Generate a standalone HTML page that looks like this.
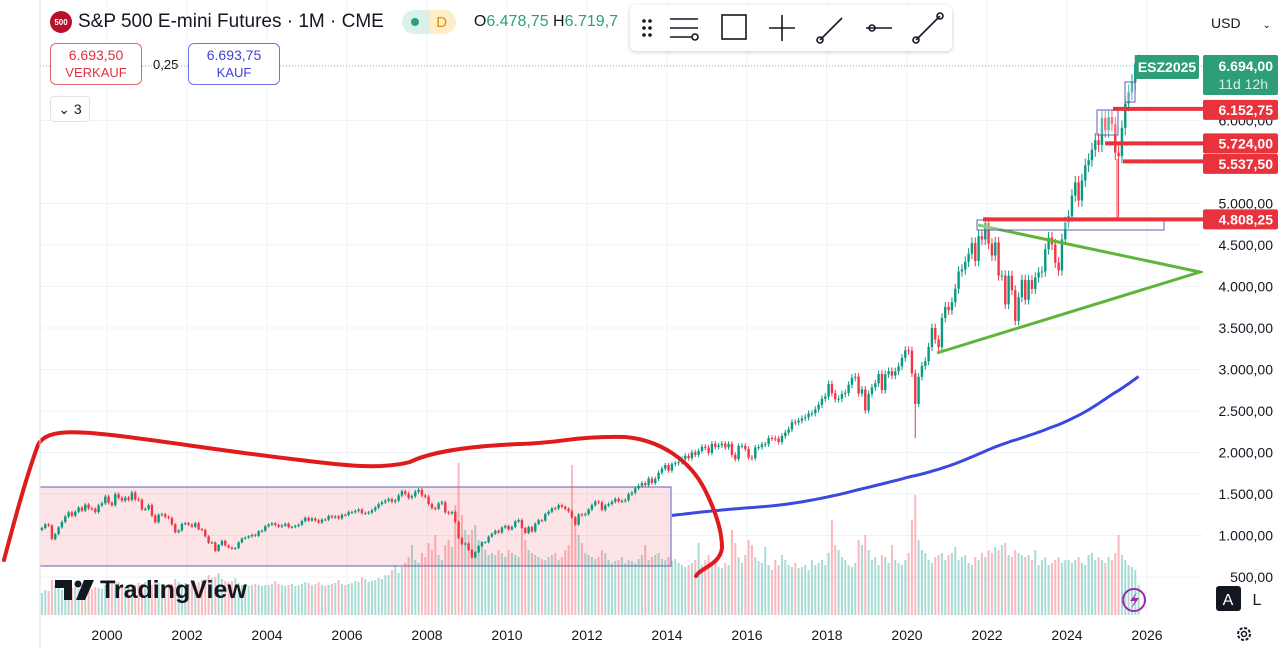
<!DOCTYPE html>
<html><head><meta charset="utf-8">
<style>
body{margin:0;width:1280px;height:648px;overflow:hidden;background:#fff;font-family:"Liberation Sans",sans-serif;}
#wrap{position:relative;width:1280px;height:648px;}
svg{position:absolute;left:0;top:0;}
</style></head>
<body><div id="wrap">
<svg id="chart" width="1280" height="648"></svg>
</div>
<script>
// Monthly closes from May 1998 to Oct 2025
const startYear = 1998, startMonth = 4;
const closes = [
1090,1133,1120,957,1017,1098,1163,1229,
1279,1238,1286,1335,1301,1372,1328,1320,1282,1362,1388,1469,
1394,1366,1498,1452,1420,1454,1430,1517,1436,1429,1315,1320,
1366,1240,1160,1249,1255,1224,1211,1134,1040,1060,1139,1148,
1130,1107,1147,1076,1067,990,912,916,815,885,936,880,
855,841,848,917,964,975,990,1008,996,1050,1058,1112,
1131,1145,1126,1107,1121,1141,1101,1104,1115,1130,1174,1212,
1181,1204,1181,1157,1192,1191,1234,1220,1229,1207,1249,1248,
1280,1281,1295,1311,1270,1270,1277,1304,1336,1378,1401,1418,
1438,1407,1421,1482,1531,1503,1455,1474,1527,1549,1481,1468,
1379,1331,1323,1386,1400,1280,1267,1283,1165,969,896,903,
826,735,798,873,919,919,987,1021,1057,1036,1096,1115,
1074,1104,1169,1187,1089,1031,1102,1049,1141,1183,1181,1258,
1286,1327,1326,1364,1345,1321,1292,1219,1131,1253,1247,1258,
1312,1366,1408,1398,1310,1362,1379,1407,1441,1412,1416,1426,
1498,1515,1569,1598,1631,1606,1686,1633,1682,1757,1806,1848,
1783,1859,1872,1884,1924,1960,1931,2003,1972,2018,2068,2059,
1995,2105,2068,2086,2107,2063,2104,1972,1920,2079,2080,2044,
1940,1932,2060,2065,2097,2099,2174,2171,2168,2126,2199,2239,
2279,2364,2363,2384,2412,2423,2470,2472,2519,2575,2648,2674,
2824,2714,2641,2648,2705,2718,2816,2902,2914,2712,2760,2507,
2704,2784,2834,2946,2752,2942,2980,2926,2977,3038,3141,3231,
3226,2954,2585,2912,3044,3100,3271,3500,3363,3270,3622,3756,
3714,3811,3973,4181,4204,4298,4395,4523,4308,4605,4567,4766,
4516,4374,4530,4132,4132,3785,4130,3955,3586,3872,4080,3840,
4077,3970,4109,4169,4180,4450,4589,4508,4288,4194,4568,4770,
4846,5096,5254,5036,5278,5460,5522,5648,5762,5705,6032,5882,
6041,5955,5612,5569,5912,6205,6339,6460,6688,6694];
const volumes = [
22,25,24,35,30,28,25,27,
26,27,28,26,27,25,24,26,28,27,26,30,
30,32,34,33,30,28,27,28,30,32,31,33,
33,30,35,32,31,30,29,31,36,33,30,32,
31,32,30,33,35,36,40,37,38,42,36,34,
33,34,37,32,30,31,29,30,31,30,29,30,
30,31,34,31,30,29,30,31,29,30,31,33,
32,30,31,33,30,29,30,31,32,35,31,30,
31,32,34,33,38,36,33,34,35,37,36,40,
40,45,50,42,48,52,58,70,55,52,62,58,
72,65,80,60,55,70,75,68,110,152,100,85,
80,85,90,75,70,65,60,62,60,65,62,58,
65,62,60,58,85,75,65,62,60,58,56,55,
58,60,62,55,58,65,70,150,90,80,72,62,
60,58,56,58,65,62,55,52,54,55,58,52,
55,54,52,56,60,70,55,58,60,62,56,55,
58,54,56,52,50,48,50,52,55,72,50,55,
60,52,55,48,47,52,50,85,72,58,52,60,
75,70,58,54,52,68,50,45,55,50,60,55,
50,48,52,47,48,50,45,55,50,52,55,50,
62,95,70,65,58,55,50,48,52,75,70,80,
65,55,58,50,60,58,52,70,55,52,50,55,
62,95,120,75,65,62,55,52,58,60,62,55,
60,62,68,55,58,60,52,50,58,55,62,58,
65,62,68,65,70,72,60,58,65,62,60,58,
60,55,65,50,55,58,50,52,55,58,52,55,
55,52,55,58,52,50,60,62,55,58,55,52,
58,55,62,80,60,55,50,48,45,30];
const spikeLows = [[2020,2,2174],[2025,3,4808]];
const priceTicks = [500,1000,1500,2000,2500,3000,3500,4000,4500,5000,6000];
const priceTickLabels = ["500,00","1.000,00","1.500,00","2.000,00","2.500,00","3.000,00","3.500,00","4.000,00","4.500,00","5.000,00","6.000,00"];
const yearTicks = [2000,2002,2004,2006,2008,2010,2012,2014,2016,2018,2020,2022,2024,2026];
const levels = [6152.75,5724,5537.5,4808.25];
const levelLabels = ["6.152,75","5.724,00","5.537,50","4.808,25"];
const levelStarts = [2025.15,2024.95,2025.4,2021.9];
const maPeriod = 190;

const X = t => 107 + (t-2000)*40;
const Y = p => 577 - (p-500)*41.5/500;
const NS='http://www.w3.org/2000/svg';
const svg=document.getElementById('chart');
function mk(tag,attrs,parent){const e=document.createElementNS(NS,tag);for(const k in attrs)e.setAttribute(k,attrs[k]);(parent||svg).appendChild(e);return e;}
function tx(str,x,y,o,parent){const e=mk('text',Object.assign({x:x,y:y,'font-family':'Liberation Sans, sans-serif'},o),parent);e.textContent=str;return e;}

const grid=mk('g',{});


priceTicks.forEach(p=>{if(Y(p)<600)mk('line',{x1:40,x2:1203,y1:Y(p),y2:Y(p),stroke:'#f0f3fa','stroke-width':1},grid);});
yearTicks.forEach(yr=>mk('line',{x1:X(yr),x2:X(yr),y1:0,y2:618,stroke:'#f0f3fa','stroke-width':1},grid));

const box=mk('rect',{x:40,y:487,width:631,height:79,fill:'rgba(242,54,69,0.13)',stroke:'#5b5fb8','stroke-width':1});



const vg=mk('g',{});


let prev=closes[0];
closes.forEach((c,i)=>{
  const m=startMonth+i, t=startYear+(m)/12;
  const up=c>=prev; prev=c;
  const b=mk('rect',{x:X(t)+0.6,y:615-volumes[i],width:2,height:volumes[i],fill:up?'rgba(8,153,129,0.35)':'rgba(242,54,69,0.35)'},vg);
  
  
});

const cg=mk('g',{});


prev=closes[0]*0.98;
closes.forEach((c,i)=>{
  const m=startMonth+i, yr=startYear+Math.floor(m/12), mo=m%12, t=startYear+m/12;
  const o=prev; prev=c;
  const up=c>=o, col=up?'#089981':'#f23645';
  const hi=Math.max(o,c)*1.015, loBase=Math.min(o,c)*0.985;
  let lo=loBase; spikeLows.forEach(s=>{if(s[0]===yr&&s[1]===mo)lo=s[2];});
  const cx=X(t)+1.6;
  const w=mk('line',{x1:cx,x2:cx,y1:Y(hi),y2:Y(lo),stroke:col,'stroke-width':1},cg);
  
  
  const top=Y(Math.max(o,c)), h=Math.max(1,Y(Math.min(o,c))-top);
  const r=mk('rect',{x:cx-1.2,y:top,width:2.4,height:h,fill:col},cg);
  
  
});

let pts=[];
for(let i=maPeriod-1;i<closes.length;i++){let s=0;for(let j=i-maPeriod+1;j<=i;j++)s+=closes[j];const t=startYear+(startMonth+i)/12;pts.push(X(t)+1.6+','+Y(s/maPeriod));}
const ma=mk('polyline',{points:pts.join(' '),fill:'none',stroke:'#3b49e0','stroke-width':3});



const tri=mk('path',{d:'M978 225 L1200 272 L937 353',fill:'none',stroke:'#5fb53a','stroke-width':3});



[[977,220,187,10],[1125,82,10,20],[1097,110,21,25]].forEach(r=>{
  const e=mk('rect',{x:r[0],y:r[1],width:r[2],height:r[3],fill:'rgba(255,255,255,0.3)',stroke:'#5b5fb8','stroke-width':1});
  
  
});

const cur=mk('path',{d:'M4 560 C12 530 25 480 38 445 C45 430 70 430 120 436 C170 442 230 452 300 460 C340 465 380 470 410 462 C430 452 470 446 520 444 C560 443 575 436 625 437 C660 440 690 460 705 490 C715 510 722 530 722 548 C720 565 700 568 696 576',fill:'none',stroke:'#e01b1b','stroke-width':4,'stroke-linecap':'round'});



const dl=mk('line',{x1:40,x2:1203,y1:66,y2:66,stroke:'#089981','stroke-width':1,'stroke-dasharray':'1 2',opacity:0.6});



const ax=mk('g',{});


mk('rect',{x:1203,y:0,width:77,height:648,fill:'#fff'},ax);
priceTicks.forEach((p,i)=>{const e=tx(priceTickLabels[i],1273,Y(p)+5,{'font-size':14,fill:'#131722','text-anchor':'end'},ax);});

const labelShift=[2,0,5,0];
levels.forEach((p,i)=>{
  const g=mk('g',{});
  
  
  mk('line',{x1:X(levelStarts[i]),x2:1205,y1:Y(p)+labelShift[i]/2,y2:Y(p)+labelShift[i]/2,stroke:'#e8323c','stroke-width':4},g);
  const ly=Y(p)+labelShift[i];
  mk('rect',{x:1203,y:ly-10,width:75,height:20,fill:'#e8323c',rx:2},g);
  tx(levelLabels[i],1273,ly+5,{'font-size':14,fill:'#fff','text-anchor':'end','font-weight':'bold'},g);
});
const wk=mk('line',{x1:1117,x2:1117,y1:Y(5537.5),y2:Y(4808.25),stroke:'#f23645','stroke-width':1});



const cp=mk('g',{});


mk('rect',{x:1135,y:55,width:64,height:24,fill:'#2e9e7a',rx:2},cp);
tx('ESZ2025',1167,72,{'font-size':14,fill:'#fff','text-anchor':'middle','font-weight':'bold'},cp);
mk('rect',{x:1203,y:55,width:75,height:40,fill:'#2e9e7a',rx:2},cp);
tx('6.694,00',1273,71,{'font-size':14,fill:'#fff','text-anchor':'end','font-weight':'bold'},cp);
tx('11d 12h',1268,89,{'font-size':14,fill:'#d4f0e6','text-anchor':'end'},cp);

const ta=mk('g',{});


mk('rect',{x:0,y:618,width:1203,height:30,fill:'#fff'},ta);
yearTicks.forEach(yr=>{const e=tx(String(yr),X(yr),640,{'font-size':14,fill:'#131722','text-anchor':'middle'},ta);});
mk('line',{x1:40,x2:40,y1:0,y2:648,stroke:'#e0e3eb'});

const wm=mk('g',{});


mk('path',{d:'M55 580 H72 V600 H64 V588 H55 Z',fill:'#131722'},wm);
mk('circle',{cx:78,cy:584,r:3.5,fill:'#131722'},wm);
mk('path',{d:'M84 580 H94 L85 600 H76 Z',fill:'#131722'},wm);
tx('TradingView',100,598,{'font-size':25,'font-weight':'bold',fill:'#131722'},wm);

const bc=mk('g',{});


mk('circle',{cx:1134,cy:600,r:11,fill:'none',stroke:'#9c27b0','stroke-width':2},bc);
mk('path',{d:'M1137 592 L1130 601 H1135 L1131 609 L1139 598 H1134 Z',fill:'#9c27b0'},bc);
mk('rect',{x:1216,y:586,width:25,height:25,rx:3,fill:'#131722'},bc);
tx('A',1228,605,{'font-size':16,fill:'#fff','text-anchor':'middle'},bc);
tx('L',1257,605,{'font-size':16,fill:'#131722','text-anchor':'middle'},bc);
mk('circle',{cx:1244,cy:634,r:6,fill:'none',stroke:'#131722','stroke-width':2,'stroke-dasharray':'3 1.7'},bc);
mk('circle',{cx:1244,cy:634,r:2.5,fill:'none',stroke:'#131722','stroke-width':1.5},bc);
</script>

<div style="position:absolute;left:50px;top:10px;display:flex;align-items:center;font-size:19px;color:#131722;">
 <span style="width:22px;height:22px;border-radius:50%;background:#b8102b;color:#fff;font-size:8px;font-weight:bold;display:inline-flex;align-items:center;justify-content:center;margin-right:6px;">500</span>
 <span>S&amp;P 500 E-mini Futures · 1M · CME</span>
 <span style="margin-left:18px;width:54px;height:24px;border-radius:12px;background:linear-gradient(90deg,#daf1ea 50%,#fdeec7 50%);display:inline-flex;align-items:center;justify-content:space-around;font-size:15px;color:#e88b00;"><span style="width:8px;height:8px;border-radius:50%;background:#2e9e7a;display:inline-block"></span>D</span>
 <span style="margin-left:18px;font-size:16px;">O<span style="color:#2e9e7a">6.478,75</span> H<span style="color:#2e9e7a">6.719,7</span></span>
</div>
<div style="position:absolute;left:50px;top:43px;width:92px;height:42px;border:1px solid #e06670;border-radius:6px;color:#e03040;text-align:center;font-size:14px;line-height:17px;padding-top:3px;box-sizing:border-box;background:#fff">6.693,50<br><span style="font-size:13px">VERKAUF</span></div>
<div style="position:absolute;left:153px;top:57px;font-size:13px;color:#131722">0,25</div>
<div style="position:absolute;left:188px;top:43px;width:92px;height:42px;border:1px solid #6f74e8;border-radius:6px;color:#3c43d8;text-align:center;font-size:14px;line-height:17px;padding-top:3px;box-sizing:border-box;background:#fff">6.693,75<br><span style="font-size:13px">KAUF</span></div>
<div style="position:absolute;left:50px;top:96px;width:38px;height:24px;border:1px solid #e0e3eb;border-radius:4px;font-size:14px;line-height:24px;text-align:center;color:#131722;background:#fff">⌄ 3</div>
<div style="position:absolute;left:630px;top:5px;width:322px;height:46px;background:#fff;border-radius:6px;box-shadow:0 1px 4px rgba(0,0,0,0.2);">
<svg width="322" height="46" style="position:absolute;left:0;top:0">
<g fill="#131722" stroke="#131722" stroke-width="1.6">
<circle cx="14" cy="16" r="1" /><circle cx="20" cy="16" r="1"/><circle cx="14" cy="23" r="1"/><circle cx="20" cy="23" r="1"/><circle cx="14" cy="30" r="1"/><circle cx="20" cy="30" r="1"/>
<line x1="40" y1="14" x2="68" y2="14"/><line x1="40" y1="23" x2="68" y2="23"/><line x1="40" y1="32" x2="62" y2="32"/><circle cx="65" cy="32" r="3" fill="none"/>
<rect x="92" y="10" width="24" height="24" fill="none"/>
<line x1="152" y1="10" x2="152" y2="36"/><line x1="139" y1="23" x2="165" y2="23"/>
<line x1="190" y1="35" x2="212" y2="13"/><circle cx="190" cy="35" r="3" fill="none"/>
<line x1="236" y1="23" x2="262" y2="23"/><circle cx="242" cy="23" r="3" fill="none"/>
<line x1="286" y1="35" x2="310" y2="11"/><circle cx="286" cy="35" r="3" fill="none"/><circle cx="310" cy="11" r="3" fill="none"/>
</g></svg></div>
<div style="position:absolute;left:1205px;top:8px;width:72px;height:30px;font-size:14px;line-height:30px;color:#131722;padding-left:6px;box-sizing:border-box;background:#fff">USD <span style="font-size:10px;margin-left:18px">⌄</span></div>
</body></html>
